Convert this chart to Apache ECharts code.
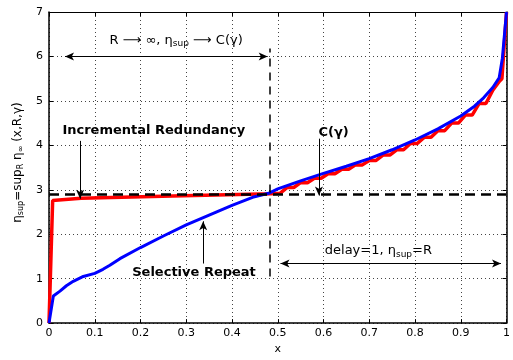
<!DOCTYPE html>
<html>
<head>
<meta charset="utf-8">
<script src="https://cdn.jsdelivr.net/npm/echarts@6/dist/echarts.min.js"></script>
<style>
  html, body { margin: 0; padding: 0; background: #fff; }
  #chart { width: 513px; height: 360px; }
</style>
</head>
<body>
<div id="chart"></div>
<script>
// 读图得到的数据
const blueX = [0, 0.0095, 0.024, 0.038, 0.053, 0.075, 0.1, 0.118, 0.133, 0.155, 0.2, 0.25, 0.3, 0.35, 0.4, 0.445, 0.48, 0.5, 0.55, 0.6, 0.65, 0.7, 0.75, 0.8, 0.85, 0.9, 0.93, 0.95, 0.97, 0.984, 0.991, 1.0]
const blueY = [0, 0.61, 0.72, 0.84, 0.94, 1.05, 1.12, 1.21, 1.3, 1.45, 1.7, 1.96, 2.21, 2.43, 2.65, 2.83, 2.92, 3.02, 3.2, 3.37, 3.53, 3.7, 3.9, 4.12, 4.37, 4.66, 4.88, 5.07, 5.3, 5.52, 5.96, 7.0]

const redX = [0, 0.008, 0.07, 0.27, 0.485, 0.505, 0.52, 0.535, 0.55, 0.565, 0.58, 0.595, 0.61, 0.625, 0.64, 0.655, 0.67, 0.685, 0.7, 0.715, 0.73, 0.745, 0.76, 0.775, 0.79, 0.805, 0.82, 0.835, 0.85, 0.865, 0.88, 0.895, 0.91, 0.925, 0.94, 0.955, 0.97, 0.985, 0.99, 1.0]
const redY = [0, 2.76, 2.81, 2.86, 2.91, 2.92, 3.05, 3.05, 3.16, 3.16, 3.26, 3.26, 3.36, 3.36, 3.46, 3.46, 3.56, 3.56, 3.66, 3.66, 3.78, 3.78, 3.9, 3.9, 4.04, 4.04, 4.18, 4.18, 4.33, 4.33, 4.5, 4.5, 4.68, 4.68, 4.94, 4.94, 5.24, 5.45, 5.5, 7.0]

const xTicks = [0, 0.1, 0.2, 0.3, 0.4, 0.5, 0.6, 0.7, 0.8, 0.9, 1]
const yTicks = [0, 1, 2, 3, 4, 5, 6, 7]

const etaSup = 2.9 // 虚线水平位置
const xSplit = 0.4825 // 虚线竖直位置

const FONT = 'DejaVu Sans'

const toPairs = (xs, ys) => xs.map((x, i) => [x, ys[i]])

// 箭头
const arrow = (x1, y1, x2, y2, both) => [
  { coord: [x1, y1], symbol: both ? 'arrow' : 'none' },
  { coord: [x2, y2], symbol: 'arrow' },
]

const dashed = (x1, y1, x2, y2, width, dash) => [
  { coord: [x1, y1], symbol: 'none', lineStyle: { type: dash, width, color: '#000' } },
  { coord: [x2, y2], symbol: 'none' },
]

const subRich = {
  n: { fontFamily: FONT, fontSize: 13, color: '#000', lineHeight: 16 },
  b: { fontFamily: FONT, fontSize: 13, fontWeight: 'bold', color: '#000', lineHeight: 16 },
  s: { fontFamily: FONT, fontSize: 9, color: '#000', lineHeight: 6, verticalAlign: 'bottom' },
}

const textMark = (x, y, text) => ({
  coord: [x, y],
  symbol: 'rect',
  symbolSize: 1,
  itemStyle: { color: 'transparent' },
  label: { show: true, position: 'inside', formatter: text, rich: subRich },
})

const axisCommon = {
  type: 'value',
  axisLine: { show: true, onZero: false, lineStyle: { color: '#000', width: 1.5 } },
  axisTick: { show: true, inside: true, length: 4, lineStyle: { color: '#000' } },
}

const chart = echarts.init(document.getElementById('chart'))

chart.setOption({
  animation: false,
  backgroundColor: '#fff',
  grid: { left: 49, right: 6, top: 12, bottom: 27, containLabel: false },
  xAxis: [
    {
      ...axisCommon,
      min: xTicks[0],
      max: xTicks[xTicks.length - 1],
      interval: 0.1,
      position: 'bottom',
      name: 'x',
      nameLocation: 'middle',
      nameGap: 17,
      nameTextStyle: { fontFamily: FONT, fontSize: 11, color: '#000' },
      axisLabel: { color: '#000', fontFamily: FONT, fontSize: 11, margin: 5 },
      splitLine: { show: true, lineStyle: { type: [1, 3], color: '#444', width: 1 } },
    },
    {
      ...axisCommon,
      min: xTicks[0],
      max: xTicks[xTicks.length - 1],
      interval: 0.1,
      position: 'top',
      axisLine: { show: true, onZero: false, lineStyle: { color: '#000', width: 1 } },
      axisLabel: { show: false },
      splitLine: { show: false },
    },
  ],
  yAxis: [
    {
      ...axisCommon,
      min: yTicks[0],
      max: yTicks[yTicks.length - 1],
      interval: 1,
      position: 'left',
      name: '{a|η}{s|sup}{a|=sup}{s|R}{a| η}{s|∞}{a| (x,R,γ)}',
      nameLocation: 'middle',
      nameGap: 20,
      nameTextStyle: {
        padding: [0, 0, 0, 10],
        rich: {
          a: { fontFamily: FONT, fontSize: 12, color: '#000', lineHeight: 15 },
          s: { fontFamily: FONT, fontSize: 8, color: '#000', lineHeight: 6, verticalAlign: 'bottom' },
        },
      },
      axisLabel: { color: '#000', fontFamily: FONT, fontSize: 11, margin: 6 },
      splitLine: { show: true, lineStyle: { type: [1, 3], color: '#444', width: 1 } },
    },
    {
      ...axisCommon,
      min: yTicks[0],
      max: yTicks[yTicks.length - 1],
      interval: 1,
      position: 'right',
      axisLabel: { show: false },
      splitLine: { show: false },
    },
  ],
  series: [
    {
      name: 'Incremental Redundancy',
      type: 'line',
      data: toPairs(redX, redY),
      showSymbol: false,
      lineStyle: { color: '#ff0000', width: 3.5 },
      itemStyle: { color: '#ff0000' },
      z: 3,
    },
    {
      name: 'Selective Repeat',
      type: 'line',
      data: toPairs(blueX, blueY),
      showSymbol: false,
      lineStyle: { color: '#0000ff', width: 3 },
      itemStyle: { color: '#0000ff' },
      z: 4,
    },
    {
      // 注释：虚线、箭头、文字
      name: 'notes',
      type: 'line',
      data: [],
      z: 5,
      markLine: {
        silent: true,
        animation: false,
        symbolSize: [6, 9],
        label: { show: false },
        lineStyle: { color: '#000', width: 1, type: 'solid' },
        emphasis: { disabled: true },
        data: [
          dashed(0, etaSup, 1, etaSup, 2.5, [10, 6]),
          dashed(xSplit, 1.05, xSplit, 6.18, 1.5, [8, 6]),
          arrow(0.035, 6, 0.478, 6, true),
          arrow(0.506, 1.34, 0.988, 1.34, true),
          arrow(0.068, 4.1, 0.068, 2.8, false),
          arrow(0.59, 4.15, 0.59, 2.87, false),
          arrow(0.337, 1.34, 0.337, 2.29, false),
        ],
      },
      markPoint: {
        silent: true,
        animation: false,
        data: [
          textMark(0.278, 6.36, '{n|R ⟶ ∞, η}{s|sup}{n| ⟶ C(γ)}'),
          textMark(0.229, 4.32, '{b|Incremental Redundancy}'),
          textMark(0.622, 4.28, '{b|C(γ)}'),
          textMark(0.317, 1.13, '{b|Selective Repeat}'),
          textMark(0.72, 1.63, '{n|delay=1, η}{s|sup}{n|=R}'),
        ],
      },
    },
  ],
})
</script>
</body>
</html>
